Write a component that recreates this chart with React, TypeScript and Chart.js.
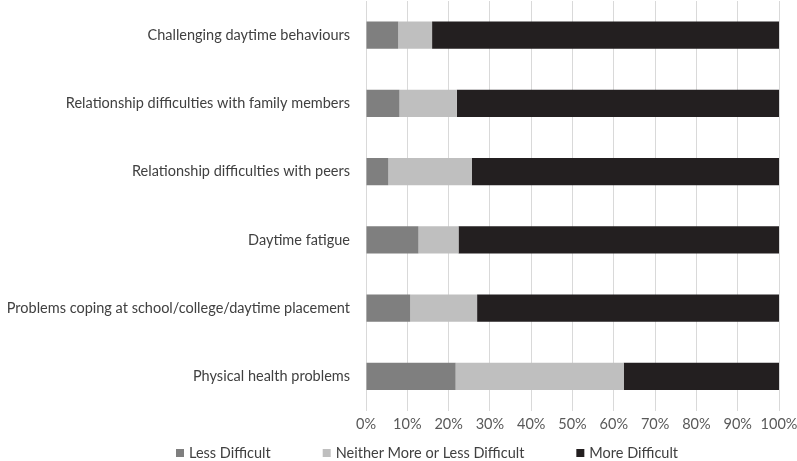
import React, { useEffect, useRef } from "react";
import { Chart, registerables } from "chart.js";

Chart.register(...registerables);

const categories = [
  "Challenging daytime behaviours",
  "Relationship difficulties with family members",
  "Relationship difficulties with peers",
  "Daytime fatigue",
  "Problems coping at school/college/daytime placement",
  "Physical health problems",
];
const lessDifficult = [7.8, 8.1, 5.4, 12.7, 10.7, 21.7];
const neitherDifficult = [8.2, 13.9, 20.2, 9.7, 16.2, 40.7];
const moreDifficult = [84.0, 78.0, 74.4, 77.6, 73.1, 37.6];
const seriesNames = ["Less Difficult", "Neither More or Less Difficult", "More Difficult"];
const seriesColors = ["#7f7f7f", "#bfbfbf", "#231f20"];
const xTicks = [0, 10, 20, 30, 40, 50, 60, 70, 80, 90, 100];

const FONT_FAMILY = "Lato";
const FONT_SIZE = 14.5;

const bottomLegend = {
  id: "bottomLegend",
  afterDraw(chart: any) {
    const ctx = chart.ctx as CanvasRenderingContext2D;
    const items = chart.data.datasets.map((d: any) => ({ label: d.label, color: d.backgroundColor }));
    ctx.save();
    ctx.font = `${FONT_SIZE}px ${FONT_FAMILY}`;
    ctx.textBaseline = "middle";
    ctx.textAlign = "left";
    const box = 8;
    const gapText = 5;
    const gapItem = 52;
    const widths = items.map((it: any) => box + gapText + ctx.measureText(it.label).width);
    let x = chart.width / 2 - 222.5;
    const y = chart.height - 8;
    items.forEach((it: any, i: number) => {
      ctx.fillStyle = it.color;
      ctx.fillRect(x, y - box / 2, box, box);
      ctx.fillStyle = "#404040";
      ctx.fillText(it.label, x + box + gapText, y);
      x += widths[i] + gapItem;
    });
    ctx.restore();
  },
};

export default function App() {
  const ref = useRef<HTMLCanvasElement>(null);
  useEffect(() => {
    document.body.style.margin = "0";
    const ctx = ref.current!;
    const font = { family: FONT_FAMILY, size: FONT_SIZE };
    const chart = new Chart(ctx, {
      type: "bar",
      data: {
        labels: categories,
        datasets: [
          { label: seriesNames[0], data: lessDifficult, backgroundColor: seriesColors[0] },
          { label: seriesNames[1], data: neitherDifficult, backgroundColor: seriesColors[1] },
          { label: seriesNames[2], data: moreDifficult, backgroundColor: seriesColors[2] },
        ],
      },
      plugins: [bottomLegend],
      options: {
        indexAxis: "y",
        animation: false,
        responsive: false,
        maintainAspectRatio: false,
        layout: { padding: { left: 0, right: 0, top: 1, bottom: 23 } },
        datasets: { bar: { categoryPercentage: 0.8, barPercentage: 0.5 } },
        scales: {
          x: {
            stacked: true,
            min: 0,
            max: 100,
            afterBuildTicks: (s: any) => {
              s.ticks = xTicks.map((v) => ({ value: v }));
            },
            afterFit: (s: any) => {
              s.paddingLeft = 0;
              s.paddingRight = 18;
            },
            ticks: {
              callback: (v: any) => v + "%",
              color: "#595959",
              font,
              padding: 5,
            },
            grid: { color: "#d9d9d9", drawTicks: false },
            border: { display: false },
          },
          y: {
            stacked: true,
            afterFit: (s: any) => {
              s.width = 366;
              s.paddingTop = 0;
              s.paddingBottom = 0;
            },
            ticks: { color: "#404040", font, padding: 16 },
            grid: { display: false, drawTicks: false },
            border: { display: false },
          },
        },
        plugins: {
          legend: { display: false },
          tooltip: { enabled: false },
        },
      },
    });
    return () => chart.destroy();
  }, []);
  return (
    <div style={{ position: "absolute", left: 0, top: 0, width: 797, height: 461 }}>
      <canvas ref={ref} width={797} height={461} />
    </div>
  );
}
